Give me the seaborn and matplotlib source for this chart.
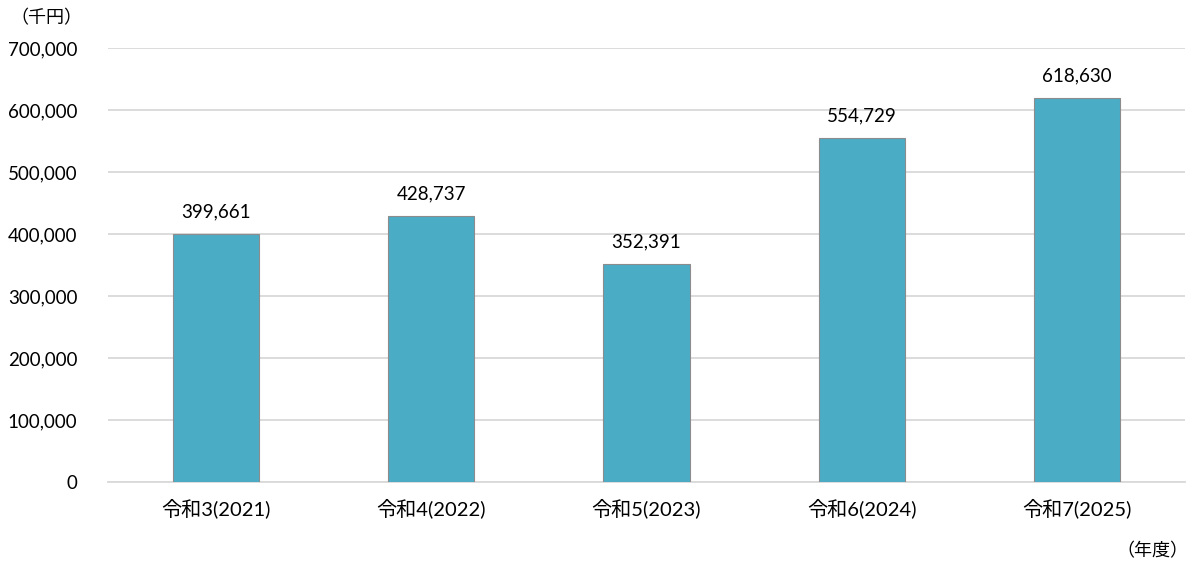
import matplotlib
matplotlib.use("Agg")
import matplotlib.pyplot as plt
import seaborn as sns
import pandas as pd
from matplotlib.ticker import FuncFormatter

categories = ["令和3(2021)", "令和4(2022)", "令和5(2023)", "令和6(2024)", "令和7(2025)"]
values = [399661, 428737, 352391, 554729, 618630]
yticks = [0, 100000, 200000, 300000, 400000, 500000, 600000, 700000]

sns.set_theme(style="white")
plt.rcParams['font.family'] = ['Lato', 'Noto Sans CJK JP', 'DejaVu Sans']

df = pd.DataFrame({"cat": categories, "val": values})

fig = plt.figure(figsize=(11.98, 5.64), dpi=100)
ax = fig.add_axes([108/1198, 82/564, (1185-108)/1198, (482-48)/564])

sns.barplot(data=df, x="cat", y="val", ax=ax, color="#4BACC6", width=0.4,
            edgecolor="#8c8c8c", linewidth=0.8, saturation=1, zorder=3)

ax.set_ylim(0, 700000)
ax.set_yticks(yticks)
ax.yaxis.set_major_formatter(FuncFormatter(lambda v, p: f"{int(v):,}"))
ax.grid(axis="y", color="#d9d9d9", linewidth=1.3, zorder=0)
ax.set_axisbelow(True)
for s in ["top", "right", "left"]:
    ax.spines[s].set_visible(False)
ax.spines["bottom"].set_color("#d9d9d9")
ax.spines["bottom"].set_linewidth(1.3)
ax.tick_params(axis="both", length=0, colors="black")
ax.tick_params(axis="y", pad=22, labelsize=13.5)
ax.tick_params(axis="x", pad=12, labelsize=14.5)
ax.set_xlabel("")
ax.set_ylabel("")

for i, v in enumerate(values):
    ax.text(i, v + 22000, f"{v:,}", ha="center", va="bottom", fontsize=13.5, color="black")

fig.text(10/1198, 1 - 18/564, "（千円）", ha="left", va="center", fontsize=13, color="black")
fig.text(1188/1198, 1 - 551/564, "（年度）", ha="right", va="center", fontsize=13, color="black")

fig.savefig("out.png", dpi=100)
